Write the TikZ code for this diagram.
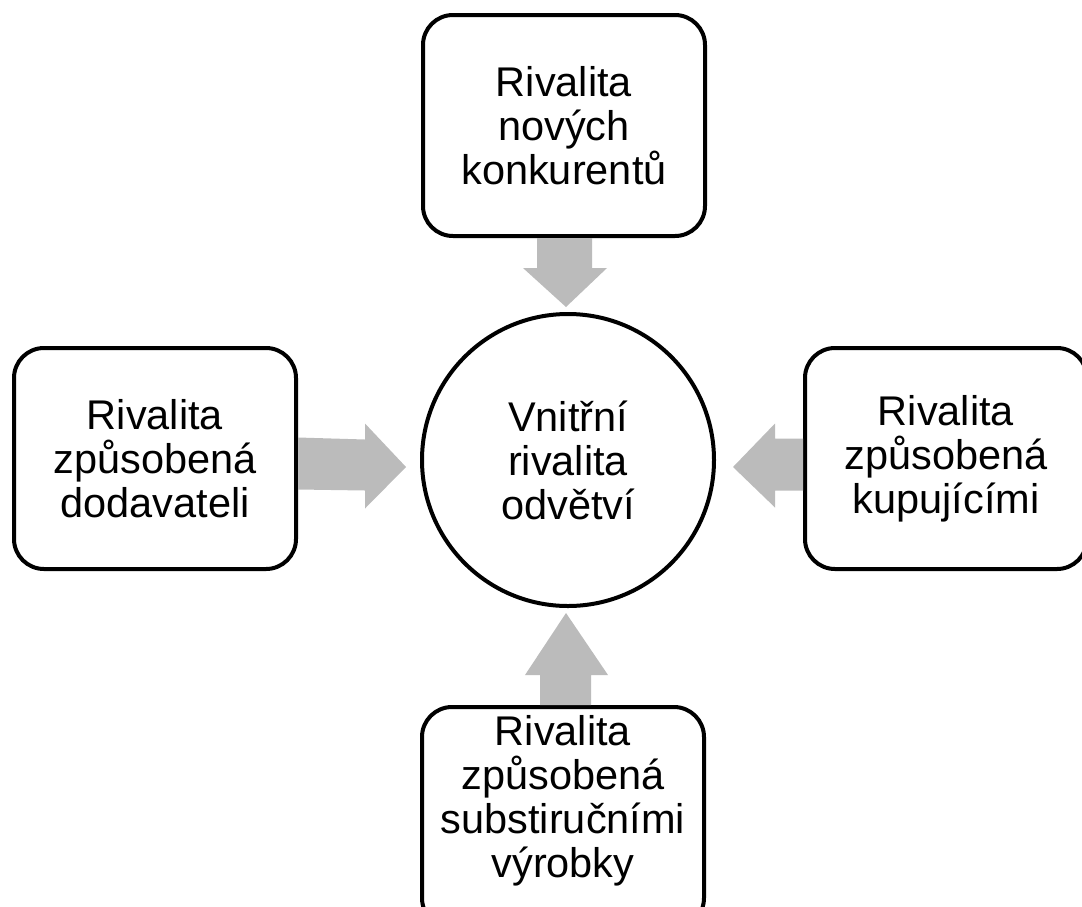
\documentclass[tikz,border=0pt]{standalone}
\usepackage{fontspec}
\setmainfont{Liberation Sans}
\usetikzlibrary{calc}
\definecolor{arrgray}{HTML}{BBBBBB}
\begin{document}
\begin{tikzpicture}[x=1pt,y=-1pt,
  txt/.style={align=center, font=\fontsize{41.5}{44}\selectfont, inner sep=0pt},
  box/.style={txt, draw=black, line width=4pt, rounded corners=30pt, minimum width=282pt, minimum height=221pt, fill=white},
  hub/.style={txt, circle, draw=black, line width=4pt, minimum size=292pt, fill=white},
  arr/.style={fill=arrgray, draw=none}]
\useasboundingbox (0,0) rectangle (1082,906);
\clip (0,0) rectangle (1082,906);

\node[box] (top) at (564,125.5) {Rivalita\\nových\\konkurentů};
\node[box] (lft) at (155,458.5) {Rivalita\\způsobená\\dodavateli};
\node[box] (rgt) at (946,458.5) {Rivalita\\způsobená\\kupujícími};
\node[box] (bot) at (563,817.5) {};
\node[txt] (botlbl) at (563,801) {Rivalita\\způsobená\\substiručními\\výrobky};
\node[hub] (ctr) at (568,460) {Vnitřní\\rivalita\\odvětví};

% top arrow
\fill[arr] ($(top.south)+(-27,0)$) -- ($(top.south)+(28,0)$) -- ($(top.south)+(28,30)$)
  -- ($(top.south)+(43,30)$) -- ($(ctr.north)+(-2,-5)$) -- ($(top.south)+(-41,30)$)
  -- ($(top.south)+(-27,30)$) -- cycle;
% bottom arrow
\fill[arr] ($(bot.north)+(-23,0)$) -- ($(bot.north)+(28,0)$) -- ($(bot.north)+(28,-30)$)
  -- ($(bot.north)+(45,-30)$) -- ($(ctr.south)+(-2,5)$) -- ($(bot.north)+(-38,-30)$)
  -- ($(bot.north)+(-23,-30)$) -- cycle;
% left arrow
\fill[arr] ($(lft.east)+(0,-21)$) -- ($(lft.east)+(67,-19)$) -- ($(lft.east)+(67,-35)$)
  -- ($(ctr.west)+(-14,7)$) -- ($(lft.east)+(67,50)$) -- ($(lft.east)+(67,32)$)
  -- ($(lft.east)+(0,31)$) -- cycle;
% right arrow
\fill[arr] ($(rgt.west)+(0,-20)$) -- ($(rgt.west)+(-28,-20)$) -- ($(rgt.west)+(-28,-35)$)
  -- ($(ctr.east)+(17,7)$) -- ($(rgt.west)+(-28,49)$) -- ($(rgt.west)+(-28,32)$)
  -- ($(rgt.west)+(0,32)$) -- cycle;
\end{tikzpicture}
\end{document}
